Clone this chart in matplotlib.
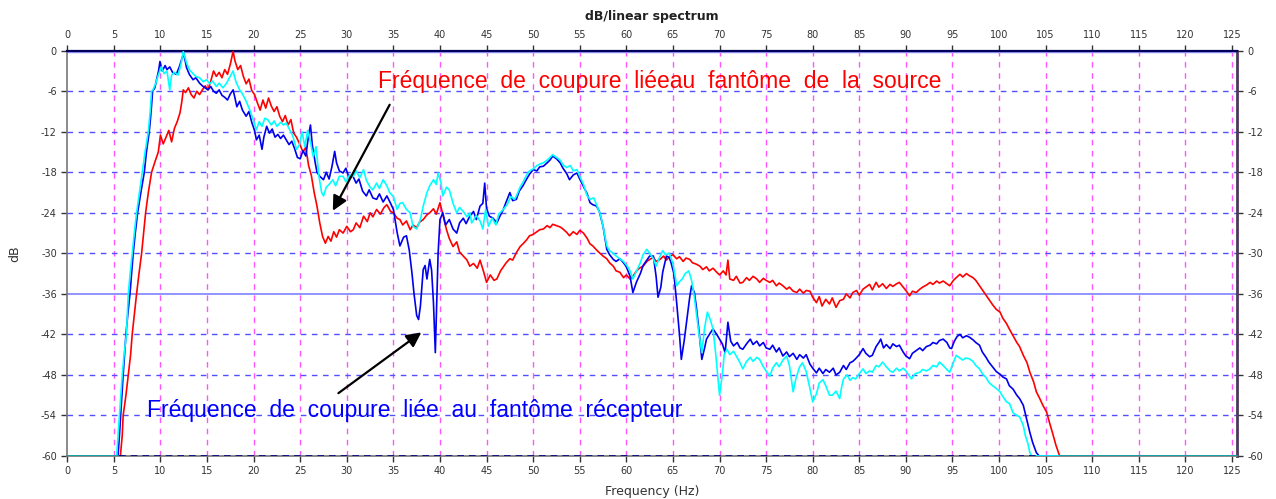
import numpy as np
import matplotlib.pyplot as plt

plt.rcParams['axes.unicode_minus'] = False

# source spectrum (red)
red_f = [0, 5.7, 5.9, 6.0, 6.3, 6.55, 6.8, 6.97, 7.2, 7.44, 7.7, 7.98, 8.2, 8.41, 8.7, 9.05, 9.4, 9.77,
         10.0, 10.3, 10.6, 10.9, 11.2, 11.5, 11.8, 12.1, 12.3, 12.45, 12.7, 13.0, 13.3, 13.6, 13.9, 14.2,
         14.5, 14.8, 15.1, 15.4, 15.7, 16.0, 16.3, 16.6, 16.9, 17.2, 17.5, 17.8, 18.0, 18.3, 18.6, 18.9,
         19.2, 19.5, 19.8, 20.1, 20.4, 20.7, 21.0, 21.3, 21.6, 21.9, 22.2, 22.5, 22.8, 23.1, 23.4, 23.7,
         24.0, 24.3, 24.6, 25.0, 25.3, 25.6, 25.9, 26.2, 26.5, 26.8, 27.1, 27.4, 27.7, 28.0, 28.3, 28.6,
         28.9, 29.2, 29.6, 30.0, 30.4, 30.7, 31.0, 31.4, 31.8, 32.2, 32.5, 32.8, 33.2, 33.6, 34.0, 34.3,
         34.7, 35.0, 35.4, 35.7, 36.0, 36.4, 36.8, 37.1, 37.5, 37.8, 38.2, 38.6, 38.9, 39.3, 39.6, 40.0,
         40.4, 40.7, 41.0, 41.4, 41.8, 42.1, 42.5, 42.9, 43.2, 43.6, 44.0, 44.3, 44.7, 45.0, 45.4, 45.8,
         46.1, 46.5, 46.8, 47.1, 47.5, 47.8, 48.2, 48.6, 48.9, 49.3, 49.6, 50.0, 50.4, 50.7, 51.1, 51.5,
         51.8, 52.1, 52.5, 52.9, 53.2, 53.6, 53.9, 54.3, 54.7, 55.0, 55.4, 55.8, 56.1, 56.4, 56.8, 57.1,
         57.5, 57.9, 58.2, 58.6, 58.9, 59.3, 59.7, 60.0, 60.4, 60.7, 61.1, 61.4, 61.8, 62.2, 62.5, 62.9,
         63.2, 63.6, 64.0, 64.3, 64.7, 65.0, 65.4, 65.7, 66.1, 66.4, 66.8, 67.1, 67.5, 67.9, 68.2, 68.6,
         68.9, 69.3, 69.7, 70.0, 70.4, 70.7, 70.9, 71.1, 71.5, 71.8, 72.2, 72.5, 72.9, 73.2, 73.6, 74.0,
         74.3, 74.7, 75.0, 75.4, 75.7, 76.1, 76.4, 76.8, 77.2, 77.5, 77.9, 78.3, 78.6, 79.0, 79.3, 79.7,
         80.0, 80.4, 80.7, 81.0, 81.4, 81.8, 82.1, 82.5, 82.9, 83.3, 83.6, 84.0, 84.3, 84.7, 85.0, 85.4,
         85.7, 86.1, 86.4, 86.8, 87.1, 87.5, 87.9, 88.3, 88.6, 89.0, 89.3, 89.7, 90.0, 90.4, 90.7, 91.1,
         91.5, 91.8, 92.2, 92.6, 92.9, 93.3, 93.6, 94.0, 94.4, 94.7, 95.1, 95.4, 95.8, 96.1, 96.5, 96.8,
         97.2, 97.5, 97.9, 98.2, 98.6, 98.9, 99.3, 99.7, 100.1, 100.4, 100.8, 101.1, 101.5, 101.9, 102.2,
         102.6, 103.0, 103.3, 103.7, 104.0, 104.4, 104.7, 105.1, 105.4, 105.8, 106.1, 106.5, 125.5]
red_db = [-60, -60, -57, -54, -51, -48, -45, -42, -39, -36, -33, -30, -27, -24, -21, -18, -16.5, -15,
          -12.5, -13.8, -12.8, -11.8, -13.5, -11.5, -10.5, -9.2, -7.5, -5.8, -6.2, -5.5, -6.5, -7.0, -6.0, -6.5,
          -5.8, -5.2, -5.8, -4.5, -3.0, -3.8, -3.2, -4.0, -2.8, -3.5, -2.0, -0.1, -1.5, -2.8, -2.2, -3.8,
          -4.9, -4.2, -5.9, -6.5, -7.7, -8.8, -7.3, -8.5, -7.0, -8.2, -9.0, -8.3, -9.7, -10.5, -9.6, -11.0,
          -10.2, -12.2, -12.8, -14.0, -15.0, -14.3, -17.0, -18.5, -21.0, -23.0, -25.5, -27.5, -28.5, -27.5, -28.2, -26.8,
          -27.6, -26.5, -27.0, -26.0, -26.8, -26.5, -25.5, -26.2, -24.5, -25.3, -24.0, -24.6, -23.5, -24.2, -23.2, -22.8,
          -23.8, -24.0, -24.8, -25.0, -25.8, -25.2, -26.5, -25.8, -26.2, -25.4, -25.0, -24.3, -24.0, -23.4, -24.2, -22.5,
          -24.8, -26.5, -27.8, -29.0, -28.3, -29.8, -30.4, -31.0, -31.9, -31.5, -32.2, -31.0, -32.8, -34.3, -33.2, -34.0,
          -33.8, -32.6, -32.0, -31.4, -30.8, -31.0, -29.9, -29.0, -28.6, -28.0, -27.4, -27.2, -26.8, -26.5, -26.4, -25.9,
          -26.2, -25.7, -25.9, -26.1, -26.4, -26.9, -27.4, -26.8, -27.2, -26.6, -27.0, -27.8, -28.6, -28.9, -29.5, -29.9,
          -30.4, -30.8, -31.4, -31.9, -32.6, -32.8, -33.6, -33.2, -33.8, -33.4, -32.6, -32.2, -31.9, -31.2, -30.9, -30.6,
          -31.2, -30.9, -30.4, -31.0, -30.4, -30.2, -30.8, -30.5, -31.2, -30.7, -30.9, -31.4, -31.6, -31.9, -32.4, -32.0,
          -32.6, -32.2, -32.8, -33.2, -32.6, -33.2, -31.0, -33.8, -34.0, -33.4, -34.4, -34.3, -33.6, -34.0, -33.4, -33.8,
          -34.3, -33.7, -34.0, -34.3, -34.0, -34.8, -34.4, -34.8, -35.3, -35.0, -35.6, -35.8, -35.3, -35.9, -35.5, -35.6,
          -36.5, -37.3, -36.4, -37.8, -36.8, -37.5, -36.6, -38.0, -37.0, -36.8, -36.0, -36.6, -35.8, -35.5, -36.2, -35.3,
          -35.0, -34.6, -35.4, -34.3, -35.0, -34.5, -35.2, -34.6, -34.9, -34.5, -34.3, -35.0, -35.5, -36.3, -35.6, -35.8,
          -35.3, -35.0, -34.7, -34.3, -34.6, -34.1, -34.4, -34.1, -34.5, -34.8, -34.0, -33.6, -33.1, -33.5, -33.0, -33.3,
          -33.6, -34.0, -34.8, -35.4, -36.2, -36.8, -37.6, -38.3, -38.7, -39.6, -40.4, -41.2, -42.2, -43.2, -43.8,
          -45.1, -46.2, -47.6, -49.0, -50.5, -51.6, -52.5, -53.5, -55.0, -56.9, -58.4, -60, -60]

# receiver spectrum (blue)
blue_f = [0, 5.45, 5.6, 5.73, 5.85, 6.0, 6.15, 6.3, 6.5, 6.73, 6.9, 7.08, 7.3, 7.55, 7.9, 8.27, 8.5, 8.8,
          9.0, 9.16, 9.4, 9.6, 9.8, 9.95, 10.2, 10.5, 10.7, 11.0, 11.3, 11.7, 12.0, 12.3, 12.5, 12.8, 13.1,
          13.5, 13.8, 14.2, 14.5, 14.8, 15.1, 15.4, 15.7, 16.0, 16.3, 16.6, 16.9, 17.2, 17.5, 17.8, 18.0,
          18.2, 18.5, 18.8, 19.2, 19.5, 19.8, 20.1, 20.3, 20.6, 20.9, 21.1, 21.4, 21.7, 22.0, 22.3, 22.6,
          22.9, 23.2, 23.5, 23.8, 24.1, 24.4, 24.7, 25.0, 25.3, 25.6, 25.9, 26.1, 26.3, 26.6, 26.8, 27.1,
          27.5, 27.8, 28.1, 28.4, 28.7, 28.9, 29.2, 29.6, 29.9, 30.3, 30.6, 31.0, 31.3, 31.7, 32.1, 32.4,
          32.8, 33.2, 33.5, 33.9, 34.3, 34.7, 35.0, 35.4, 35.7, 36.1, 36.4, 36.7, 37.0, 37.2, 37.5, 37.7,
          37.9, 38.2, 38.4, 38.6, 38.9, 39.1, 39.3, 39.5, 39.65, 39.8, 40.0, 40.3, 40.6, 41.0, 41.4, 41.8,
          42.1, 42.5, 42.8, 43.2, 43.6, 43.9, 44.3, 44.6, 44.8, 45.0, 45.3, 45.7, 46.1, 46.4, 46.8, 47.1,
          47.5, 47.8, 48.2, 48.5, 48.9, 49.3, 49.6, 50.0, 50.4, 50.7, 51.1, 51.5, 51.8, 52.1, 52.5, 52.9,
          53.2, 53.6, 53.9, 54.3, 54.7, 55.0, 55.4, 55.8, 56.1, 56.4, 56.8, 57.1, 57.5, 57.9, 58.2, 58.6,
          58.9, 59.3, 59.7, 60.0, 60.4, 60.7, 61.1, 61.5, 61.8, 62.2, 62.5, 62.9, 63.2, 63.4, 63.7, 63.9,
          64.3, 64.6, 64.8, 65.1, 65.4, 65.7, 65.9, 66.2, 66.5, 66.8, 67.0, 67.3, 67.5, 67.8, 68.1, 68.4,
          68.6, 69.0, 69.3, 69.7, 70.0, 70.3, 70.6, 70.9, 71.2, 71.5, 71.9, 72.2, 72.5, 72.9, 73.3, 73.6,
          74.0, 74.3, 74.7, 75.0, 75.4, 75.7, 76.1, 76.4, 76.8, 77.2, 77.5, 77.9, 78.3, 78.6, 79.0, 79.3,
          79.7, 80.0, 80.4, 80.7, 81.1, 81.4, 81.8, 82.2, 82.5, 82.9, 83.3, 83.6, 84.0, 84.3, 84.6, 85.0,
          85.4, 85.7, 86.1, 86.4, 86.8, 87.1, 87.3, 87.6, 87.9, 88.3, 88.6, 89.0, 89.3, 89.7, 90.0, 90.4,
          90.7, 91.1, 91.5, 91.8, 92.2, 92.6, 92.9, 93.3, 93.6, 94.0, 94.4, 94.7, 94.9, 95.2, 95.5, 95.8,
          96.1, 96.5, 96.8, 97.2, 97.5, 97.9, 98.2, 98.6, 98.9, 99.3, 99.7, 100.1, 100.4, 100.8, 101.1, 101.5,
          101.9, 102.2, 102.6, 102.9, 103.3, 103.6, 104.0, 104.3, 125.5]
blue_db = [-60, -60, -57, -54, -51, -48, -45, -42, -39, -36, -33, -30, -27, -24, -21, -18, -15, -12,
           -9, -6, -5.5, -4.2, -3.0, -1.6, -3.0, -2.2, -2.8, -2.4, -3.2, -3.5, -2.5, -1.2, -0.4, -2.5, -3.5,
           -4.3, -4.0, -4.8, -5.2, -5.5, -5.8, -5.3, -6.0, -6.3, -5.8, -6.6, -6.9, -7.3, -6.4, -5.8, -7.0,
           -8.3, -7.5, -8.8, -9.7, -9.0, -10.6, -11.8, -13.2, -12.5, -14.6, -12.8, -11.2, -12.2, -11.6, -12.8, -12.4,
           -13.0, -12.5, -13.2, -13.9, -13.4, -14.5, -15.8, -16.0, -14.8, -15.6, -12.5, -11.0, -14.0, -16.5, -18.0, -18.6,
           -19.1, -18.0, -19.0, -17.2, -14.9, -16.6, -17.8, -18.1, -17.4, -19.0, -18.4, -19.6, -19.0, -20.8, -21.5, -20.6,
           -21.8, -22.0, -21.2, -22.4, -21.5, -22.6, -23.5, -26.9, -28.9, -27.6, -27.4, -29.5, -33.0, -35.8, -39.2, -39.8,
           -37.8, -32.4, -31.8, -33.8, -30.9, -32.5, -37.3, -44.7, -37.5, -30.0, -25.0, -24.0, -25.8, -25.0, -26.4, -27.0,
           -25.5, -24.8, -25.6, -24.5, -23.8, -25.0, -23.0, -22.6, -19.6, -23.4, -24.5, -24.8, -25.5, -24.6, -23.5, -22.4,
           -21.0, -22.2, -22.0, -20.8, -20.0, -19.0, -18.3, -17.6, -17.8, -17.2, -17.1, -16.6, -16.2, -15.6, -16.0, -16.6,
           -17.4, -18.2, -19.1, -18.4, -18.1, -19.0, -20.1, -21.2, -22.5, -22.8, -23.0, -23.8, -26.0, -29.4, -30.2, -30.9,
           -31.2, -30.8, -31.4, -32.0, -33.4, -35.8, -34.2, -33.0, -31.8, -31.0, -30.4, -30.4, -33.5, -36.5, -35.0, -32.8,
           -30.4, -30.6, -31.4, -33.0, -37.3, -42.0, -45.7, -43.0, -39.7, -36.5, -34.8, -35.8, -37.8, -41.5, -45.7, -44.0,
           -42.7, -41.8, -41.2, -42.0, -42.7, -43.4, -44.7, -40.2, -43.0, -43.7, -43.2, -44.0, -44.2, -43.4, -42.7, -43.5,
           -43.0, -43.7, -43.2, -44.0, -44.2, -43.6, -44.6, -44.0, -45.2, -44.6, -45.3, -44.8, -45.7, -45.0, -45.5, -45.0,
           -46.4, -47.0, -47.7, -47.0, -47.8, -47.2, -47.6, -47.0, -48.0, -47.6, -46.6, -47.2, -46.2, -46.0, -45.6, -45.0,
           -44.1, -44.8, -45.3, -45.1, -43.8, -43.2, -42.7, -44.0, -43.5, -44.1, -43.4, -43.8, -43.6, -44.6, -45.2, -45.6,
           -44.8, -44.4, -44.0, -44.4, -43.8, -43.6, -43.2, -43.4, -42.9, -42.7, -43.2, -44.0, -44.1, -43.0, -42.3, -42.0,
           -42.5, -42.2, -42.4, -42.8, -43.2, -43.6, -44.6, -45.4, -46.1, -46.8, -47.5, -47.9, -48.3, -48.6, -49.6, -50.1,
           -51.0, -51.5, -52.5, -54.2, -56.5, -58.0, -59.5, -60, -60]

# receiver spectrum, second trace (cyan)
cyan_f = [0, 5.3, 5.45, 5.6, 5.75, 5.9, 6.1, 6.35, 6.45, 6.55, 6.75, 6.97, 7.2, 7.44, 7.75, 8.05, 8.35, 8.7,
          8.9, 9.05, 9.2, 9.5, 9.8, 10.1, 10.4, 10.7, 11.0, 11.2, 11.5, 11.9, 12.2, 12.45, 12.8, 13.1, 13.5,
          13.8, 14.2, 14.6, 14.95, 15.3, 15.6, 16.0, 16.3, 16.7, 17.1, 17.4, 17.8, 18.1, 18.5, 18.8, 19.2,
          19.6, 19.9, 20.3, 20.6, 20.9, 21.2, 21.5, 21.9, 22.2, 22.5, 22.9, 23.2, 23.5, 23.9, 24.2, 24.6,
          24.9, 25.2, 25.5, 25.8, 26.1, 26.4, 26.7, 27.0, 27.3, 27.5, 27.8, 28.1, 28.5, 28.8, 29.2, 29.6,
          29.9, 30.3, 30.7, 31.0, 31.4, 31.8, 32.1, 32.5, 32.8, 33.2, 33.5, 33.9, 34.3, 34.6, 35.0, 35.4,
          35.7, 36.0, 36.4, 36.8, 37.1, 37.5, 37.9, 38.2, 38.6, 38.9, 39.3, 39.6, 39.8, 40.1, 40.3, 40.7,
          41.0, 41.4, 41.8, 42.1, 42.5, 42.9, 43.2, 43.4, 43.9, 44.3, 44.6, 44.9, 45.2, 45.6, 46.0, 46.3,
          46.8, 47.2, 47.6, 48.0, 48.2, 48.6, 48.9, 49.3, 49.6, 50.0, 50.4, 50.7, 51.1, 51.5, 51.8, 52.1,
          52.5, 52.9, 53.2, 53.6, 54.0, 54.3, 54.7, 55.0, 55.4, 55.8, 56.1, 56.5, 56.8, 57.2, 57.5, 57.9,
          58.2, 58.6, 58.9, 59.3, 59.7, 60.1, 60.4, 60.7, 61.1, 61.5, 61.8, 62.2, 62.5, 62.9, 63.2, 63.5,
          63.9, 64.2, 64.6, 65.0, 65.4, 65.7, 66.0, 66.3, 66.7, 67.0, 67.3, 67.5, 67.8, 68.1, 68.4, 68.7,
          69.0, 69.3, 69.6, 70.0, 70.3, 70.5, 70.8, 71.1, 71.5, 71.8, 72.2, 72.5, 72.9, 73.3, 73.6, 74.0,
          74.3, 74.7, 75.0, 75.4, 75.7, 76.1, 76.4, 76.8, 77.2, 77.5, 77.9, 78.2, 78.6, 78.9, 79.3, 79.7,
          80.0, 80.4, 80.7, 81.1, 81.4, 81.8, 82.1, 82.5, 82.9, 83.1, 83.3, 83.7, 84.0, 84.3, 84.6, 85.0,
          85.4, 85.7, 86.1, 86.4, 86.8, 87.1, 87.5, 87.9, 88.3, 88.6, 89.0, 89.3, 89.7, 90.0, 90.3, 90.6,
          91.0, 91.5, 91.8, 92.2, 92.6, 92.9, 93.3, 93.6, 94.0, 94.4, 94.7, 95.0, 95.4, 95.7, 96.1, 96.4,
          96.8, 97.2, 97.5, 97.9, 98.2, 98.6, 98.9, 99.3, 99.7, 100.1, 100.4, 100.8, 101.1, 101.5, 101.9,
          102.2, 102.6, 102.8, 103.1, 103.3, 103.5, 125.5]
cyan_db = [-60, -60, -57, -54, -51, -48, -45, -42, -39, -36, -33, -30, -27, -24, -21, -18, -15, -12,
           -9, -6, -5.8, -4.8, -3.5, -2.4, -3.4, -3.0, -5.8, -3.6, -3.2, -3.6, -2.0, -0.1, -1.8, -2.8, -3.4,
           -3.8, -4.0, -4.6, -4.3, -4.9, -4.5, -5.3, -4.8, -5.5, -4.8, -4.0, -3.0, -4.6, -5.8, -6.4, -7.5,
           -8.8, -10.0, -11.7, -10.5, -11.2, -10.0, -10.2, -11.0, -10.4, -11.2, -10.6, -11.0, -10.7, -11.8, -12.6, -14.6,
           -14.0, -12.0, -14.2, -11.8, -13.5, -15.7, -14.2, -18.5, -21.0, -21.5, -20.2, -19.8, -19.1, -20.0, -18.6, -18.6,
           -19.4, -18.4, -18.6, -17.8, -18.8, -17.6, -19.2, -20.2, -20.6, -19.6, -20.4, -19.1, -20.0, -21.0, -21.6, -23.5,
           -22.6, -22.5, -23.5, -24.0, -26.0, -26.4, -25.0, -23.0, -21.0, -20.0, -19.1, -19.8, -18.1, -19.5, -21.5, -20.2,
           -20.6, -22.6, -24.0, -23.2, -23.8, -24.6, -24.0, -25.5, -24.4, -25.2, -26.4, -23.5, -26.0, -24.8, -25.8, -24.2,
           -23.5, -22.8, -21.6, -22.0, -21.5, -20.2, -19.5, -18.4, -17.8, -17.5, -17.0, -16.8, -16.6, -16.2, -15.8, -15.4,
           -15.8, -16.2, -16.9, -17.3, -17.0, -17.8, -17.6, -18.6, -19.8, -21.5, -22.0, -21.8, -22.8, -24.2, -26.0, -28.9,
           -29.6, -30.0, -30.4, -30.8, -31.2, -31.9, -32.6, -33.8, -32.6, -31.4, -30.2, -29.4, -30.0, -30.8, -31.9, -30.8,
           -29.6, -30.2, -30.0, -31.5, -34.8, -34.2, -33.8, -33.0, -32.6, -34.0, -36.5, -38.7, -42.0, -44.7, -41.0, -38.7,
           -39.8, -41.2, -45.0, -51.0, -48.0, -45.0, -44.2, -45.0, -44.5, -45.2, -46.2, -47.1, -46.0, -45.4, -46.0, -45.4,
           -45.7, -46.8, -47.4, -48.2, -47.0, -46.2, -46.8, -45.8, -45.2, -46.6, -50.5, -48.5, -46.8, -46.2, -47.5, -50.0,
           -52.0, -50.8, -49.2, -48.7, -49.6, -51.0, -51.0, -50.4, -51.5, -49.8, -48.6, -48.0, -48.8, -48.4, -48.6, -47.8,
           -47.1, -47.8, -47.4, -47.6, -46.6, -46.8, -46.1, -46.8, -47.4, -47.6, -47.0, -47.4, -47.0, -47.4, -48.0, -48.6,
           -47.8, -47.6, -47.2, -47.4, -47.1, -46.6, -46.8, -46.1, -46.6, -47.2, -47.6, -46.5, -45.1, -45.4, -45.8, -45.5,
           -45.6, -46.0, -46.6, -47.1, -47.8, -48.4, -49.1, -49.6, -50.0, -50.5, -51.2, -52.0, -52.2, -53.6, -54.0,
           -54.2, -55.5, -56.9, -58.2, -59.5, -60, -60]

x_ticks = list(range(0, 130, 5))
y_ticks = list(range(0, -61, -6))

fig = plt.figure(figsize=(12.76, 4.99), dpi=100)
ax = fig.add_axes([0.0527, 0.0862, 0.9165, 0.8122])

# grid: magenta dashed verticals, blue dashed horizontals
for xv in x_ticks[1:]:
    ax.axvline(xv, color='#ff55ff', lw=1.0, ls=(0, (4, 4)), zorder=1)
for yv in y_ticks:
    if yv == -36:
        ax.axhline(yv, color='#8080ff', lw=1.2, zorder=1)
    elif yv == 0:
        ax.axhline(yv, color='#9999ff', lw=2.5, zorder=1)
    else:
        ax.axhline(yv, color='#5050ff', lw=1.0, ls=(0, (4, 4)), zorder=1)

ax.plot(red_f, red_db, color='#ff0000', lw=1.2, zorder=3)
ax.plot(blue_f, blue_db, color='#0000ee', lw=1.2, zorder=4)
ax.plot(cyan_f, cyan_db, color='#00ffff', lw=1.2, zorder=5)
# floor segments shared by all traces
ax.axhline(-60, color='#1a9a9a', lw=1.3, zorder=6, xmax=5.4 / 125.5)
ax.axhline(-60, color='#1a9a9a', lw=1.3, zorder=6, xmin=106.5 / 125.5)
ax.axhline(-60, color='#000080', lw=1.2, ls=(0, (4, 3)), zorder=6,
           xmin=5.6 / 125.5, xmax=104.3 / 125.5)

ax.set_xlim(0, 125.5)
ax.set_ylim(-60, 0)
ax.set_xticks(x_ticks)
ax.set_yticks(y_ticks)
ax.set_xticklabels([str(v) for v in x_ticks])
ax.set_yticklabels([str(v) for v in y_ticks])
ax.tick_params(axis='both', which='both', direction='out', length=4, width=1,
               labelsize=7, colors='#333333', top=True, right=True,
               labeltop=True, labelright=True)

for side in ['left', 'bottom']:
    ax.spines[side].set_color('#777777')
    ax.spines[side].set_linewidth(1.2)
ax.spines['top'].set_color('#00005a')
ax.spines['top'].set_linewidth(1.6)
ax.spines['right'].set_color('#4a3a5a')
ax.spines['right'].set_linewidth(2.0)

ax.set_title('dB/linear spectrum', fontsize=9, fontweight='bold', color='#222222', pad=22)
ax.set_xlabel('Frequency (Hz)', fontsize=9, color='#333333', labelpad=6)
ax.set_ylabel('dB', fontsize=9, color='#333333', labelpad=14)

ax.text(33.3, -4.6, 'Fréquence  de  coupure  liéeau  fantôme  de  la  source',
        color='#ff0000', fontsize=16.5, family='Liberation Sans', ha='left', va='center', zorder=7)
ax.text(8.55, -53.3, 'Fréquence  de  coupure  liée  au  fantôme  récepteur',
        color='#0000ff', fontsize=16.5, family='Liberation Sans', ha='left', va='center', zorder=7)

arrow = dict(arrowstyle='-|>', color='black', lw=1.6, mutation_scale=22, shrinkA=0, shrinkB=0)
ax.annotate('', xy=(28.5, -23.7), xytext=(34.6, -8.0), arrowprops=arrow, zorder=8)
ax.annotate('', xy=(38.0, -41.7), xytext=(29.1, -50.7), arrowprops=arrow, zorder=8)

fig.savefig('out.png', dpi=100)
